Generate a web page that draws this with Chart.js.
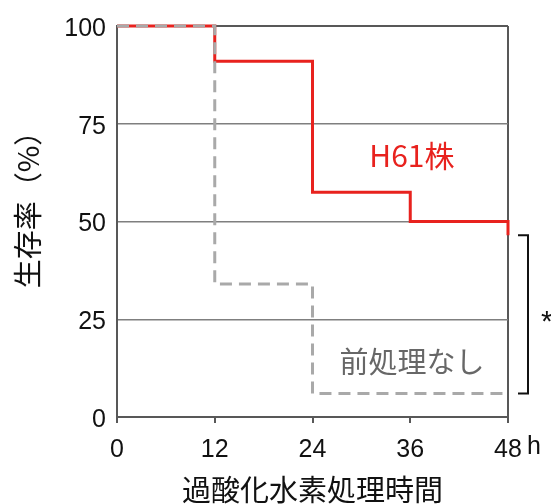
<!DOCTYPE html>
<html><head><meta charset="utf-8">
<script src="https://cdn.jsdelivr.net/npm/chart.js@4"></script>
<style>html,body{margin:0;padding:0;background:#fff;overflow:hidden;}</style>
</head><body>
<canvas id="c" width="551" height="504" style="display:block;width:551px;height:504px"></canvas>
<script>
const timeTicks = [0, 12, 24, 36, 48];
const survivalTicks = [0, 25, 50, 75, 100];
const h61Times = [0, 12, 24, 36, 48, 48];
const h61Survival = [100, 91, 57.5, 50, 50, 46.5];
const untreatedTimes = [0, 12, 24, 36, 48];
const untreatedSurvival = [100, 34, 6, 6, 6];
const seriesLabels = ['H61株', '前処理なし'];
const xTitle = '過酸化水素処理時間';
const yTitle = '生存率（%）';
const xUnit = 'h';
const sigMark = '*';

const RED = '#e8221e';
const GREY = '#a9a9a9';
const FRAME = '#585858';
const GRID = '#7f7f7f';
const LATIN = '"Liberation Sans", Arial, sans-serif';
const CJK = '"Noto Sans CJK JP", "Noto Sans", sans-serif';
const X_TICK_LEN = 6, X_TICK_PAD = 12;

const toPoints = (xs, ys) => xs.map((x, i) => ({x: x, y: ys[i]}));

const annot = {
  id: 'annot',
  afterDraw(chart) {
    const {ctx, chartArea} = chart;
    const x = chart.scales.x, y = chart.scales.y;
    ctx.save();
    // unit after last x tick
    ctx.font = '25px ' + LATIN;
    ctx.fillStyle = '#111';
    ctx.textAlign = 'left';
    ctx.textBaseline = 'top';
    ctx.fillText(xUnit, x.getPixelForValue(timeTicks[timeTicks.length - 1]) + 19, chartArea.bottom + X_TICK_LEN + X_TICK_PAD);
    // y axis title
    ctx.save();
    ctx.translate(28, (chartArea.top + chartArea.bottom) / 2 - 19);
    ctx.rotate(-Math.PI / 2);
    ctx.font = '29px ' + CJK;
    ctx.textAlign = 'center';
    ctx.textBaseline = 'middle';
    ctx.fillText(yTitle, 0, 0);
    ctx.restore();
    // series labels
    ctx.textAlign = 'center';
    ctx.textBaseline = 'middle';
    ctx.font = '30px ' + CJK;
    ctx.fillStyle = RED;
    ctx.fillText(seriesLabels[0], x.getPixelForValue(36.2), y.getPixelForValue(66.8));
    ctx.font = '29px ' + CJK;
    ctx.fillStyle = '#676767';
    ctx.fillText(seriesLabels[1], x.getPixelForValue(36.2), y.getPixelForValue(14));
    // significance bracket
    const yTop = y.getPixelForValue(h61Survival[h61Survival.length - 1]);
    const yBot = y.getPixelForValue(untreatedSurvival[untreatedSurvival.length - 1]);
    const bx = chartArea.right + 20;
    ctx.strokeStyle = '#111';
    ctx.lineWidth = 2;
    ctx.beginPath();
    ctx.moveTo(bx - 10, yTop);
    ctx.lineTo(bx, yTop);
    ctx.lineTo(bx, yBot);
    ctx.lineTo(bx - 10, yBot);
    ctx.stroke();
    ctx.font = '30px ' + LATIN;
    ctx.fillStyle = '#111';
    ctx.textAlign = 'left';
    ctx.textBaseline = 'alphabetic';
    ctx.fillText(sigMark, bx + 13, (yTop + yBot) / 2 + 17);
    ctx.restore();
  }
};

new Chart(document.getElementById('c'), {
  type: 'line',
  data: {
    datasets: [
      {
        label: seriesLabels[1],
        data: toPoints(untreatedTimes, untreatedSurvival),
        borderColor: GREY,
        borderWidth: 3,
        borderDash: [12, 7],
        stepped: 'before',
        pointRadius: 0,
        fill: false,
        clip: false,
        borderJoinStyle: 'miter'
      },
      {
        label: seriesLabels[0],
        data: toPoints(h61Times, h61Survival),
        borderColor: RED,
        borderWidth: 3,
        stepped: 'before',
        pointRadius: 0,
        fill: false,
        clip: false,
        borderJoinStyle: 'miter'
      }
    ]
  },
  options: {
    responsive: false,
    animation: false,
    devicePixelRatio: 1,
    layout: {padding: {left: 0, top: 23, right: 43, bottom: 0}},
    plugins: {legend: {display: false}, tooltip: {enabled: false}},
    scales: {
      x: {
        type: 'linear',
        min: 0, max: 48,
        afterBuildTicks: s => { s.ticks = timeTicks.map(v => ({value: v})); },
        afterFit: s => { s.height = 87; },
        ticks: {
          font: {family: LATIN, size: 25},
          color: '#111',
          padding: X_TICK_PAD,
          maxRotation: 0,
          autoSkip: false,
          callback: v => String(v)
        },
        grid: {
          color: c => (c.tick && c.tick.value === 48) ? FRAME : 'rgba(0,0,0,0)',
          lineWidth: 2,
          drawTicks: true,
          tickLength: X_TICK_LEN,
          tickColor: FRAME,
          tickWidth: 2
        },
        border: {display: true, color: FRAME, width: 2},
        title: {
          display: true, text: xTitle, color: '#111',
          font: {family: CJK, size: 29, lineHeight: 1},
          padding: {top: 0, bottom: 0}
        }
      },
      y: {
        min: 0, max: 100,
        afterBuildTicks: s => { s.ticks = survivalTicks.map(v => ({value: v})); },
        afterFit: s => { s.width = 117; },
        ticks: {
          font: {family: LATIN, size: 25},
          color: '#111',
          padding: 11,
          labelOffset: 3,
          callback: v => String(v)
        },
        grid: {
          color: c => (c.tick && (c.tick.value === 0 || c.tick.value === 100)) ? FRAME : GRID,
          lineWidth: c => (c.tick && (c.tick.value === 0 || c.tick.value === 100)) ? 2 : 1.5,
          drawTicks: false
        },
        border: {display: true, color: FRAME, width: 2},
        title: {display: false}
      }
    }
  },
  plugins: [annot]
});
</script>
</body></html>
